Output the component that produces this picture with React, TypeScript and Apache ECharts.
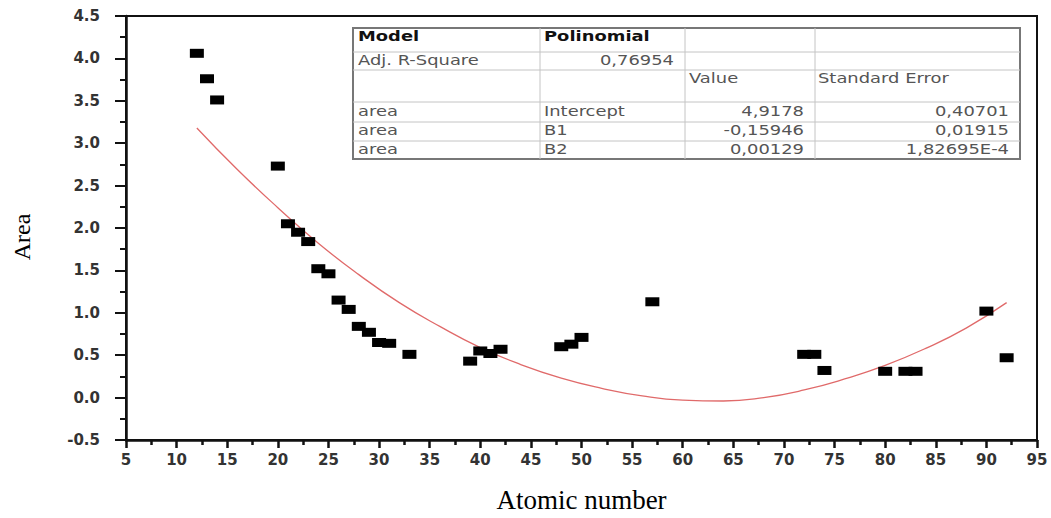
import React, { useEffect, useRef } from "react";
import * as echarts from "echarts";

// Measured points (atomic number, area)
const atomicNumbers = [12, 13, 14, 20, 21, 22, 23, 24, 25, 26, 27, 28, 29, 30, 31, 33, 39, 40, 41, 42, 48, 49, 50, 57, 72, 73, 74, 80, 82, 83, 90, 92];
const areaValues = [4.06, 3.76, 3.51, 2.73, 2.05, 1.95, 1.84, 1.52, 1.46, 1.15, 1.04, 0.84, 0.77, 0.65, 0.64, 0.51, 0.43, 0.55, 0.52, 0.57, 0.6, 0.63, 0.71, 1.13, 0.51, 0.51, 0.32, 0.31, 0.31, 0.31, 1.02, 0.47];

// Fitted polynomial curve
const fitX = [12, 16, 20, 24, 28, 32, 36, 40, 44, 48, 52, 56, 60, 64, 68, 72, 76, 80, 84, 88, 92];
const fitY = [3.18, 2.69, 2.24, 1.82, 1.45, 1.12, 0.84, 0.59, 0.39, 0.23, 0.11, 0.02, -0.03, -0.04, 0.0, 0.09, 0.22, 0.38, 0.58, 0.82, 1.12];

// Fit statistics table
const tableHeader = ["Model", "Polinomial", "", ""];
const tableR2 = ["Adj. R-Square", "0,76954", "", ""];
const tableColumns = ["", "", "Value", "Standard Error"];
const tableParams = [
  ["area", "Intercept", "4,9178", "0,40701"],
  ["area", "B1", "-0,15946", "0,01915"],
  ["area", "B2", "0,00129", "1,82695E-4"],
];

const xAxisName = "Atomic number";
const yAxisName = "Area";

export default function App() {
  const ref = useRef<HTMLDivElement>(null);

  useEffect(() => {
    document.body.style.margin = "0";
    if (!ref.current) return;
    const chart = echarts.init(ref.current, null, { renderer: "svg" });

    const rows = [tableHeader, tableR2, tableColumns, ...tableParams];
    const colX = [353, 540, 685, 815, 1020];
    const rowY = [28, 52, 70, 102, 122, 141, 159];
    const textY = [36, 60, 78, 111, 130, 149];
    const isNum = (s: string) => /^-?[\d,]+(E-?\d+)?$/.test(s);

    const graphics: any[] = [];
    graphics.push({
      type: "rect",
      shape: { x: colX[0], y: rowY[0], width: colX[4] - colX[0], height: rowY[6] - rowY[0] },
      style: { fill: "#fff", stroke: "#777", lineWidth: 2 },
      z: 100,
    });
    for (let i = 1; i < rowY.length - 1; i++) {
      graphics.push({
        type: "line",
        shape: { x1: colX[0], y1: rowY[i], x2: colX[4], y2: rowY[i] },
        style: { stroke: "#c4c4c4", lineWidth: 1 },
        z: 101,
      });
    }
    for (let i = 1; i < colX.length - 1; i++) {
      graphics.push({
        type: "line",
        shape: { x1: colX[i], y1: rowY[0], x2: colX[i], y2: rowY[6] },
        style: { stroke: "#c4c4c4", lineWidth: 1 },
        z: 101,
      });
    }
    rows.forEach((row, r) => {
      row.forEach((txt, c) => {
        if (!txt) return;
        const right = isNum(txt);
        const x = right ? colX[c + 1] - 11 : colX[c] + (c === 0 ? 5 : c === 3 ? 3 : 4);
        graphics.push({
          type: "text",
          x,
          y: textY[r],
          scaleX: 1.28,
          z: 102,
          style: {
            text: txt,
            x: 0,
            y: 0,
            align: right ? "right" : "left",
            verticalAlign: "middle",
            fontFamily: "DejaVu Sans",
            fontSize: 14,
            fontWeight: r === 0 ? "bold" : "normal",
            fill: r === 0 ? "#111" : "#555",
          },
        });
      });
    });

    const axisLabelStyle = {
      fontFamily: "DejaVu Sans",
      fontSize: 15,
      fontWeight: "bold" as const,
      color: "#333",
    };

    chart.setOption({
      animation: false,
      grid: {
        left: 126,
        right: 14,
        top: 16,
        bottom: 76,
        show: true,
        borderColor: "#111",
        borderWidth: 2,
        backgroundColor: "transparent",
      },
      xAxis: {
        type: "value",
        min: 5,
        max: 95,
        interval: 5,
        name: xAxisName,
        nameLocation: "middle",
        nameGap: 46,
        nameTextStyle: { fontFamily: "Liberation Serif", fontSize: 27, color: "#000" },
        axisLine: { show: true, onZero: false, lineStyle: { color: "#111", width: 2.5 } },
        axisTick: { show: true, inside: false, length: 8, lineStyle: { color: "#111", width: 2.5 } },
        minorTick: { show: true, splitNumber: 2, length: 5, lineStyle: { color: "#111", width: 2.5 } },
        splitLine: { show: false },
        axisLabel: { ...axisLabelStyle, margin: 12 },
      },
      yAxis: {
        type: "value",
        min: -0.5,
        max: 4.5,
        interval: 0.5,
        name: yAxisName,
        nameLocation: "middle",
        nameGap: 92,
        nameTextStyle: {
          fontFamily: "Liberation Serif",
          fontSize: 24,
          color: "#000",
          padding: [0, 18, 0, 0],
        },
        axisLine: { show: true, onZero: false, lineStyle: { color: "#111", width: 2.5 } },
        axisTick: { show: true, inside: false, length: 11, lineStyle: { color: "#111", width: 2 } },
        minorTick: { show: true, splitNumber: 2, length: 6, lineStyle: { color: "#111", width: 2 } },
        splitLine: { show: false },
        axisLabel: {
          ...axisLabelStyle,
          margin: 26,
          formatter: (v: number) => v.toFixed(1),
        },
      },
      graphic: graphics,
      series: [
        {
          type: "line",
          data: fitX.map((x, i) => [x, fitY[i]]),
          smooth: true,
          showSymbol: false,
          symbol: "none",
          lineStyle: { color: "#e06a6a", width: 1.3 },
          z: 2,
        },
        {
          type: "scatter",
          data: atomicNumbers.map((x, i) => [x, areaValues[i]]),
          symbol: "rect",
          symbolSize: [14, 9],
          itemStyle: { color: "#000", opacity: 1 },
          z: 3,
        },
      ],
    });

    return () => chart.dispose();
  }, []);

  return <div ref={ref} style={{ width: 1051, height: 518 }} />;
}
